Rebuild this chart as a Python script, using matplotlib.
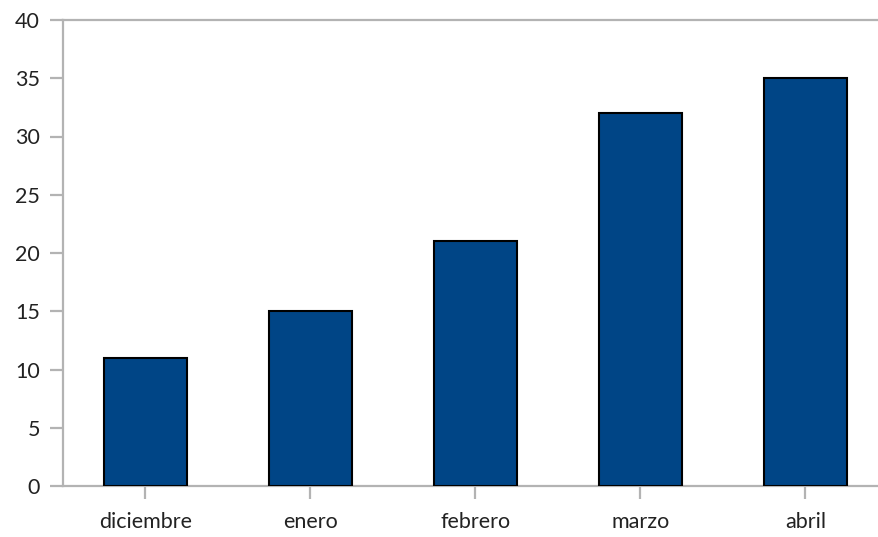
import matplotlib
matplotlib.use('Agg')
import matplotlib.pyplot as plt

months = ['diciembre', 'enero', 'febrero', 'marzo', 'abril']
values = [11, 15, 21, 32, 35]

plt.rcParams['font.family'] = ['Lato', 'DejaVu Sans']

fig = plt.figure(figsize=(8.79, 5.37), dpi=100)
# axis runs a little past the right edge of the picture, as in the original
ax = fig.add_axes([63 / 879, 1 - 486 / 537, 825 / 879, 466 / 537])

grey = '#b3b3b3'
ax.bar(range(len(months)), values, width=0.5, color='#004586',
       edgecolor='black', linewidth=1.5, zorder=3)

ax.set_xlim(-0.5, len(months) - 0.5)
ax.set_ylim(0, 40)
ax.set_yticks(range(0, 41, 5))
ax.set_xticks(range(len(months)))
ax.set_xticklabels(months)

for side in ['left', 'top', 'bottom']:
    ax.spines[side].set_color(grey)
    ax.spines[side].set_linewidth(1.6)
ax.spines['right'].set_visible(False)

ax.tick_params(axis='y', length=9.5, width=1.6, color=grey, pad=7,
               labelsize=15.5, labelcolor='#222222')
ax.tick_params(axis='x', length=9.5, width=1.6, color=grey, pad=9,
               labelsize=15.5, labelcolor='#222222')

fig.savefig('out.png', dpi=100)
